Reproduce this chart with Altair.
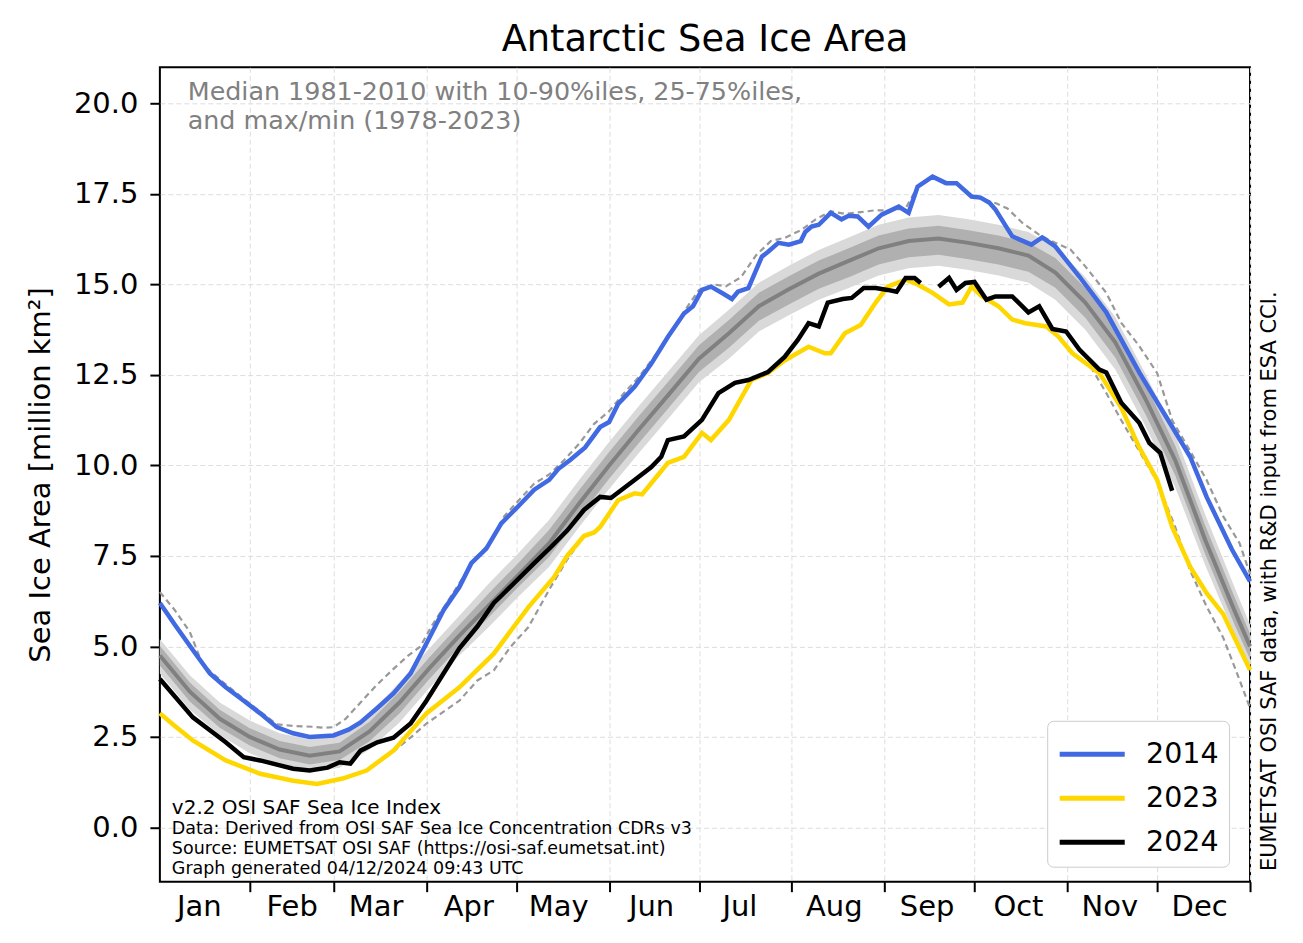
import altair as alt
import pandas as pd

TITLE = "Antarctic Sea Ice Area"
Y_TITLE = "Sea Ice Area [million km²]"
NOTE_TOP = ["Median 1981-2010 with 10-90%iles, 25-75%iles,", "and max/min (1978-2023)"]
NOTE_VERSION = "v2.2 OSI SAF Sea Ice Index"
NOTE_SOURCE = ["Data: Derived from OSI SAF Sea Ice Concentration CDRs v3",
               "Source: EUMETSAT OSI SAF (https://osi-saf.eumetsat.int)",
               "Graph generated 04/12/2024 09:43 UTC"]
NOTE_RIGHT = "EUMETSAT OSI SAF data, with R&D input from ESA CCI."

MONTH_NAMES = ["Jan", "Feb", "Mar", "Apr", "May", "Jun", "Jul", "Aug", "Sep", "Oct", "Nov", "Dec"]
MONTH_END_DAYS = [31, 59, 90, 120, 151, 181, 212, 243, 273, 304, 334, 365]
MONTH_LABEL_DAYS = [14, 45, 73, 104, 134, 165, 194.5, 226, 257, 287.5, 318, 348]
Y_TICKS = [0, 2.5, 5, 7.5, 10, 12.5, 15, 17.5, 20]

YEARS = ["2014", "2023", "2024"]
YEAR_COLORS = ["#4169e1", "#ffd700", "#000000"]

# climatology (day of year)
BAND_DAYS = [1, 11, 21, 31, 41, 51, 61, 71, 81, 91, 101, 111, 121, 131, 141, 151, 161, 171, 181, 191,
             201, 211, 221, 231, 241, 251, 261, 271, 281, 291, 300, 310, 320, 330, 340, 350, 360, 365]
MEDIAN = [4.75, 3.75, 3.0, 2.5, 2.15, 1.98, 2.1, 2.65, 3.45, 4.4, 5.3, 6.15, 7.0, 7.85, 8.95, 10.0, 11.0,
          11.97, 12.95, 13.65, 14.4, 14.87, 15.3, 15.65, 16.0, 16.2, 16.27, 16.15, 16.0, 15.8, 15.33, 14.5,
          13.4, 11.85, 10.15, 7.95, 5.95, 5.0]
P10 = [4.25, 3.25, 2.55, 2.05, 1.7, 1.53, 1.65, 2.15, 2.9, 3.85, 4.75, 5.55, 6.4, 7.2, 8.3, 9.35, 10.35,
       11.32, 12.3, 12.95, 13.7, 14.15, 14.58, 14.9, 15.25, 15.45, 15.52, 15.4, 15.25, 15.05, 14.58, 13.75,
       12.65, 11.1, 9.4, 7.25, 5.3, 4.4]
P90 = [5.2, 4.2, 3.45, 2.95, 2.6, 2.43, 2.55, 3.15, 4.0, 4.95, 5.85, 6.75, 7.6, 8.5, 9.6, 10.65, 11.65,
       12.62, 13.6, 14.3, 15.05, 15.52, 15.95, 16.3, 16.65, 16.85, 16.92, 16.8, 16.65, 16.45, 16.03, 15.2,
       14.1, 12.55, 10.85, 8.65, 6.6, 5.6]
P25 = [4.47, 3.48, 2.75, 2.26, 1.91, 1.74, 1.86, 2.38, 3.15, 4.1, 5.0, 5.82, 6.67, 7.48, 8.58, 9.63, 10.63,
       11.6, 12.58, 13.25, 14.0, 14.45, 14.88, 15.2, 15.55, 15.75, 15.82, 15.7, 15.55, 15.35, 14.91, 14.08,
       12.98, 11.43, 9.73, 7.55, 5.57, 4.65]
P75 = [5.02, 4.0, 3.25, 2.74, 2.39, 2.22, 2.34, 2.92, 3.75, 4.7, 5.6, 6.48, 7.33, 8.22, 9.32, 10.37, 11.37,
       12.34, 13.32, 14.02, 14.77, 15.23, 15.66, 16.0, 16.35, 16.55, 16.62, 16.5, 16.35, 16.15, 15.73, 14.9,
       13.8, 12.25, 10.55, 8.35, 6.33, 5.35]

MAX_DAYS = [1, 6, 11, 15, 18, 23, 29, 34.5, 40, 46, 52, 56, 59, 63, 68, 73, 79, 84, 88, 92, 96, 101, 106,
            111, 116, 121, 126, 131, 136, 141, 146, 151, 156, 161, 166, 171, 176, 181, 186, 190, 195, 200,
            205, 210, 215, 220, 225, 230, 235, 240, 245, 250, 254, 259, 263.5, 267, 272, 276, 280, 284, 289,
            295, 300, 305, 310, 317, 322, 328, 334, 339, 345, 350.5, 356, 361.5, 365]
MAX_VALS = [6.5, 6.0, 5.4, 4.55, 4.3, 3.95, 3.55, 3.2, 2.85, 2.8, 2.78, 2.75, 2.77, 3.0, 3.45, 3.9, 4.38,
            4.75, 5.0, 5.6, 6.1, 6.75, 7.4, 7.85, 8.6, 9.05, 9.5, 9.75, 10.15, 10.6, 11.15, 11.5, 12.0, 12.45,
            13.0, 13.6, 14.25, 14.85, 15.0, 14.95, 15.2, 15.8, 16.2, 16.3, 16.5, 16.8, 17.02, 16.95, 17.0,
            17.05, 17.05, 17.1, 17.7, 17.98, 17.8, 17.8, 17.45, 17.35, 17.25, 17.1, 16.7, 16.35, 16.15, 15.97,
            15.5, 14.77, 13.94, 13.3, 12.55, 11.25, 10.4, 9.6, 8.6, 7.85, 7.0]

MIN_DAYS = [1, 6, 12, 23, 34.5, 45.5, 53.5, 62, 70, 76, 79, 85, 90, 101, 107, 112.5, 118, 124, 131.5, 137,
            142.6, 146, 148, 154, 159.5, 162, 165, 170.6, 176, 182, 185, 191, 196, 198.5, 204, 209.6, 217.6,
            223, 225, 229.7, 235, 240, 244, 250, 254, 259, 264.5, 269, 272, 275.5, 281, 285.6, 290, 297, 301,
            305.7, 312, 317, 322, 328, 334, 340, 345, 350.5, 356, 360, 365]
MIN_VALS = [3.15, 2.8, 2.4, 1.85, 1.48, 1.29, 1.2, 1.35, 1.57, 1.95, 2.1, 2.5, 2.87, 3.5, 4.06, 4.34, 4.98,
            5.53, 6.64, 7.4, 8.05, 8.15, 8.3, 9.04, 9.23, 9.2, 9.5, 10.07, 10.24, 10.9, 10.7, 11.26, 12.0,
            12.36, 12.55, 12.9, 13.28, 13.1, 13.1, 13.65, 13.88, 14.5, 14.94, 15.13, 15.0, 14.77, 14.45, 14.5,
            14.94, 14.67, 14.4, 14.03, 13.93, 13.84, 13.56, 13.1, 12.7, 12.0, 11.25, 10.4, 9.55, 8.3, 7.1,
            6.1, 5.25, 4.4, 3.3]

Y2014_DAYS = [1, 6, 12, 17.7, 23, 29, 34.5, 40, 45.5, 51, 59, 64, 68, 73.6, 79, 84.7, 90, 95.7, 101, 105,
              110, 115, 121, 126, 131, 134, 138, 143, 148, 151, 154, 159.5, 165, 170.6, 176, 179, 182, 185,
              189, 192, 194, 197.5, 202, 204, 207.5, 211, 215, 216.5, 218.6, 221, 225, 228.6, 231, 234,
              237.6, 242, 247.7, 251, 254, 259, 263.5, 267, 272, 275, 278, 280, 285.6, 292, 295.6, 300, 308,
              317, 328, 339, 345, 350.5, 359, 365]
Y2014_VALS = [6.2, 5.6, 4.9, 4.25, 3.87, 3.5, 3.15, 2.77, 2.6, 2.5, 2.54, 2.7, 2.9, 3.3, 3.7, 4.25, 5.08,
              6.0, 6.64, 7.3, 7.7, 8.4, 8.9, 9.33, 9.6, 9.9, 10.15, 10.5, 11.06, 11.2, 11.7, 12.17, 12.8,
              13.55, 14.2, 14.4, 14.85, 14.94, 14.75, 14.6, 14.8, 14.9, 15.77, 15.9, 16.15, 16.1, 16.2,
              16.45, 16.6, 16.65, 16.98, 16.8, 16.9, 16.88, 16.6, 16.93, 17.15, 16.98, 17.7, 17.98, 17.8,
              17.8, 17.43, 17.4, 17.26, 17.07, 16.33, 16.1, 16.3, 16.05, 15.22, 14.23, 12.57, 11.07, 10.24,
              9.13, 7.67, 6.8]

Y2023_DAYS = [1, 6, 12, 23, 34.5, 45.5, 53.5, 62, 70, 79, 90, 101, 112.5, 124, 132.6, 137, 142.6, 146, 148,
              154, 159.5, 162, 165, 170.6, 176, 182, 185, 191, 196, 198.5, 204, 209.6, 217.6, 223, 225,
              229.7, 235, 240, 244, 250, 254, 259, 264.5, 269, 272, 275.5, 281, 285.6, 290, 297, 301, 305.7,
              314.7, 322, 328, 334, 339, 345, 350.5, 356, 365]
Y2023_VALS = [3.15, 2.8, 2.4, 1.85, 1.48, 1.29, 1.2, 1.35, 1.57, 2.12, 3.15, 3.87, 4.8, 6.08, 6.91, 7.5,
              8.05, 8.15, 8.3, 9.04, 9.23, 9.2, 9.5, 10.07, 10.24, 10.9, 10.7, 11.26, 12.0, 12.36, 12.55,
              12.9, 13.28, 13.1, 13.1, 13.65, 13.88, 14.5, 14.94, 15.13, 15.0, 14.77, 14.45, 14.5, 14.94,
              14.67, 14.4, 14.03, 13.93, 13.84, 13.56, 13.1, 12.55, 11.6, 10.5, 9.6, 8.3, 7.2, 6.47, 5.9,
              4.35]

# 2024 has a short data gap in mid-September: two segments
Y2024A_DAYS = [1, 12, 23, 29, 34.5, 45.5, 51, 57, 61, 64.6, 68, 73.6, 79, 84.7, 90, 95.7, 101, 107, 112.5,
               115, 126, 131.5, 137, 142.6, 148, 151.6, 159.5, 165, 168.4, 170.6, 176, 182, 187.5, 193,
               197.5, 204, 209.6, 214, 217.6, 221, 224, 229, 232, 236, 240, 244, 247, 250, 253, 255]
Y2024A_VALS = [4.1, 3.04, 2.35, 1.94, 1.85, 1.62, 1.57, 1.65, 1.8, 1.76, 2.12, 2.35, 2.48, 2.87, 3.5, 4.25,
               4.95, 5.55, 6.2, 6.4, 7.3, 7.74, 8.2, 8.77, 9.13, 9.1, 9.6, 9.95, 10.24, 10.7, 10.8, 11.26,
               12.0, 12.28, 12.36, 12.58, 13.0, 13.47, 13.93, 13.84, 14.5, 14.6, 14.63, 14.9, 14.9, 14.85,
               14.8, 15.18, 15.18, 15.04]
Y2024B_DAYS = [261, 264.5, 267, 270, 273, 277, 280, 285.6, 291, 294.6, 299, 303.6, 308, 314.7, 317, 322,
               328, 331.4, 335, 339]
Y2024B_VALS = [14.94, 15.18, 14.85, 15.04, 15.07, 14.58, 14.67, 14.67, 14.23, 14.4, 13.77, 13.7, 13.2,
               12.65, 12.57, 11.73, 11.18, 10.62, 10.35, 9.3]

FONT = "DejaVu Sans"

band = pd.DataFrame({"day": BAND_DAYS, "p10": P10, "p25": P25, "med": MEDIAN, "p75": P75, "p90": P90})
ext = pd.concat([
    pd.DataFrame({"day": MAX_DAYS, "value": MAX_VALS, "kind": "max"}),
    pd.DataFrame({"day": MIN_DAYS, "value": MIN_VALS, "kind": "min"}),
], ignore_index=True)
years = pd.concat([
    pd.DataFrame({"day": Y2014_DAYS, "value": Y2014_VALS, "year": "2014", "seg": "2014"}),
    pd.DataFrame({"day": Y2023_DAYS, "value": Y2023_VALS, "year": "2023", "seg": "2023"}),
    pd.DataFrame({"day": Y2024A_DAYS, "value": Y2024A_VALS, "year": "2024", "seg": "2024a"}),
    pd.DataFrame({"day": Y2024B_DAYS, "value": Y2024B_VALS, "year": "2024", "seg": "2024b"}),
], ignore_index=True)
one = pd.DataFrame({"k": [0]})

X_SCALE = alt.Scale(domain=[1, 365], nice=False, zero=False)
Y_SCALE = alt.Scale(domain=[-1.5, 21], nice=False, zero=False)
GRID_COLOR = "#dddddd"

grid_axis = alt.Axis(values=MONTH_END_DAYS, labels=False, ticks=True, tickSize=10, tickWidth=2,
                     tickColor="black", domain=False, grid=True, gridColor=GRID_COLOR, gridDash=[5, 3],
                     gridWidth=1, title=None, orient="bottom")
label_expr = "{}[indexof({}, datum.value)]".format(
    "[" + ",".join("'%s'" % m for m in MONTH_NAMES) + "]",
    "[" + ",".join(str(d) for d in MONTH_LABEL_DAYS) + "]")
label_axis = alt.Axis(values=MONTH_LABEL_DAYS, labelExpr=label_expr, ticks=False, domain=False, grid=False,
                      labelPadding=11, labelFontSize=29, labelFlush=False, labelOverlap=False,
                      labelBound=False, title=None, orient="bottom", labelColor="black")
y_axis = alt.Axis(values=Y_TICKS, format=".1f", tickSize=10, tickWidth=2, tickColor="black", domain=False,
                  grid=True, gridColor=GRID_COLOR, gridDash=[5, 3], gridWidth=1, labelFontSize=29,
                  labelPadding=12, labelColor="black", labelFlush=False, labelOverlap=False,
                  title=Y_TITLE, titleFontSize=29, titleFontWeight="normal", titleColor="black",
                  titleX=-110, titleY=407.5, titleAngle=270, titleBaseline="alphabetic", titleAlign="center",
                  orient="left")

outer = alt.Chart(band).mark_area(color="#d9d9d9").encode(
    x=alt.X("day:Q", scale=X_SCALE, axis=grid_axis),
    y=alt.Y("p10:Q", scale=Y_SCALE, axis=y_axis),
    y2="p90:Q")
inner = alt.Chart(band).mark_area(color="#b0b0b0").encode(
    x=alt.X("day:Q", axis=None), y=alt.Y("p25:Q", axis=None), y2="p75:Q")
median = alt.Chart(band).mark_line(color="#808080", strokeWidth=4).encode(
    x=alt.X("day:Q", axis=None), y=alt.Y("med:Q", axis=None))
extremes = alt.Chart(ext).mark_line(color="#999999", strokeWidth=2.2, strokeDash=[6, 4]).encode(
    x=alt.X("day:Q", axis=label_axis), y=alt.Y("value:Q", axis=None), detail="kind:N")
year_lines = alt.Chart(years).mark_line(strokeWidth=4.5).encode(
    x=alt.X("day:Q", axis=None), y=alt.Y("value:Q", axis=None),
    color=alt.Color("year:N", scale=alt.Scale(domain=YEARS, range=YEAR_COLORS),
                    legend=alt.Legend(title=None, orient="none", legendX=888, legendY=654,
                                      symbolType="M-1,0H2.1", symbolSize=1764, symbolStrokeWidth=5,
                                      labelFontSize=28.5, labelOffset=42, padding=10, rowPadding=6,
                                      fillColor="white", strokeColor="#cccccc", cornerRadius=6,
                                      labelColor="black")),
    detail="seg:N")


def note(x, y, text, size, color, **kw):
    return alt.Chart(one).mark_text(text=text, fontSize=size, color=color, font=FONT, **kw).encode(
        x=alt.XDatum(x, type="quantitative", axis=None),
        y=alt.YDatum(y, type="quantitative", axis=None))


t_top = note(10.3, 20.09, NOTE_TOP, 25.4, "#808080", align="left", baseline="alphabetic", lineHeight=29)
t_ver = note(5.0, 0.38, NOTE_VERSION, 20, "black", align="left", baseline="alphabetic")
t_src = note(5.0, -0.18, NOTE_SOURCE, 17.5, "black", align="left", baseline="alphabetic", lineHeight=20)
t_right = note(373.7, 6.8, NOTE_RIGHT, 21, "black", align="center", baseline="alphabetic", angle=270)

chart = alt.layer(outer, inner, median, extremes, year_lines, t_top, t_ver, t_src, t_right).resolve_axis(
    x="independent", y="independent"
).properties(
    width=1091, height=815, autosize="none",
    padding={"left": 152, "top": 59, "right": 45, "bottom": 50},
    title=alt.TitleParams(TITLE, fontSize=36.8, fontWeight="normal", font=FONT, color="black",
                          anchor="middle", offset=9),
).configure(font=FONT).configure_view(stroke="black", strokeWidth=2).configure_axis(
    labelFont=FONT, titleFont=FONT).configure_legend(labelFont=FONT)

chart.save("out.html", embed_options={"renderer": "svg", "actions": False})
